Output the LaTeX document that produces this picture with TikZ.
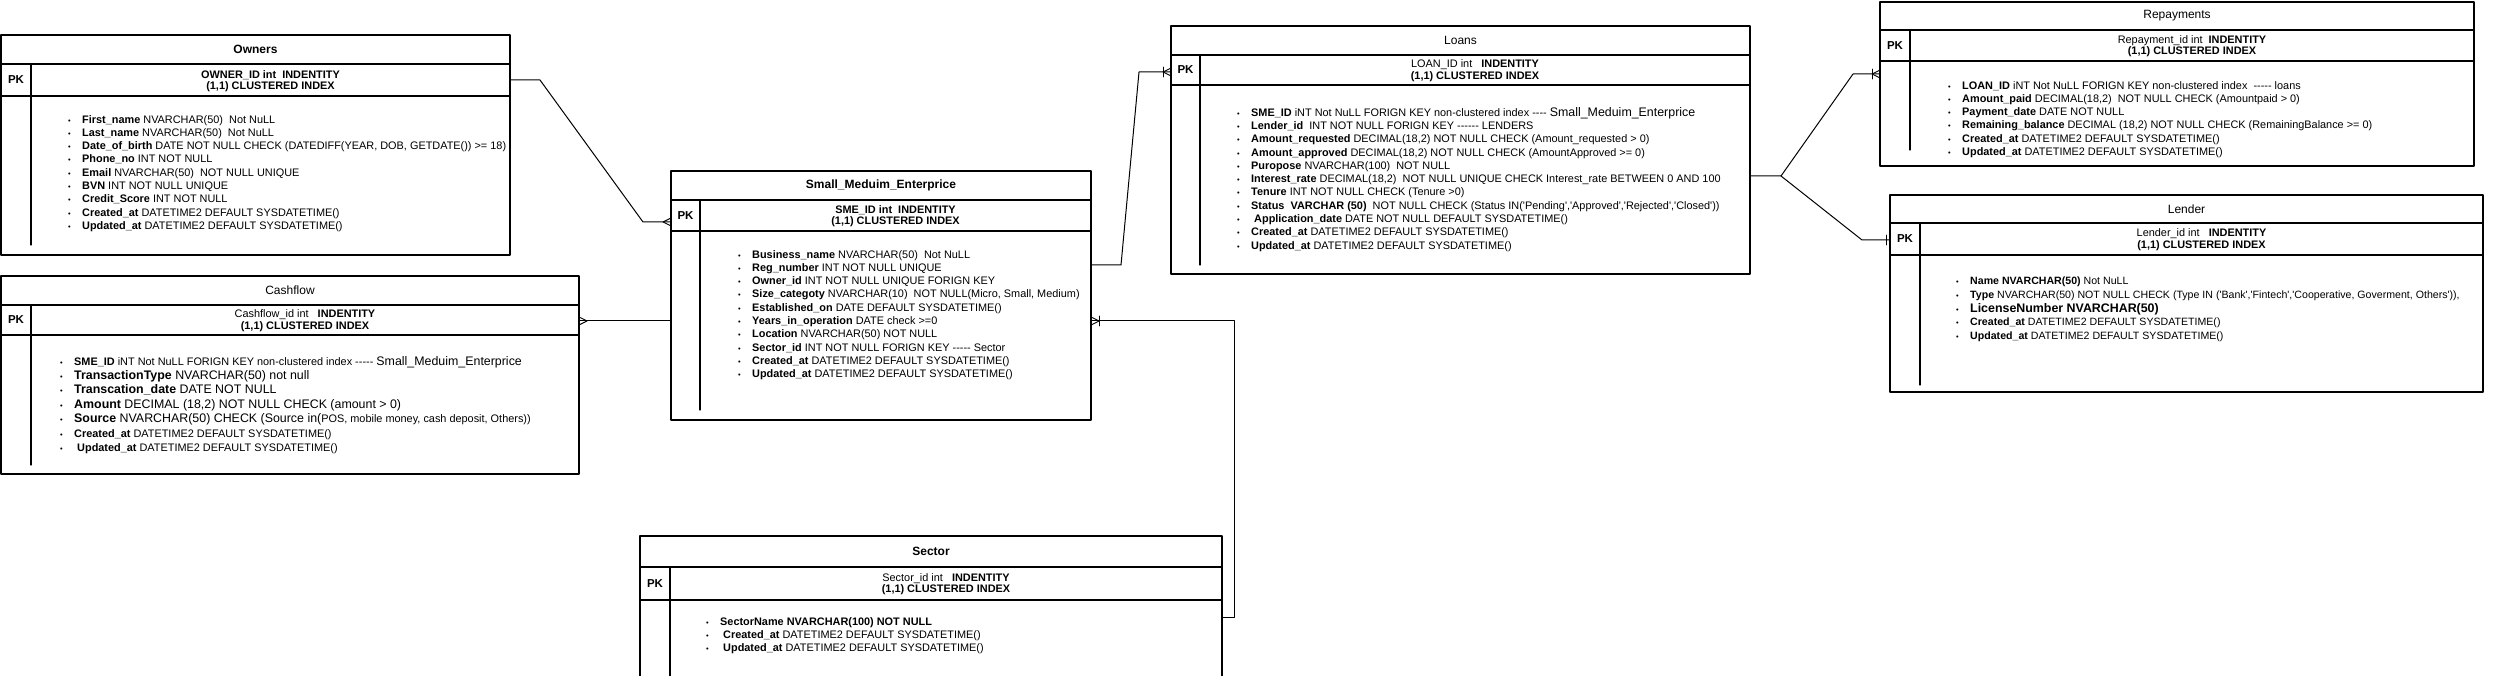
\documentclass[tikz,border=0pt]{standalone}
\usepackage{fontspec}
\setmainfont{Liberation Sans}
\newcommand{\itm}{\makebox[14pt][l]{\fontsize{7.5}{7.5}\selectfont •}}
\newcommand{\bgtxt}[1]{{\fontsize{12.4}{14}\selectfont #1}}
\newcommand{\dsh}{-{}-{}-{}-{}-}

\begin{document}
\begin{tikzpicture}[x=1pt, y=-1pt, line join=round, line cap=round,
    font=\fontsize{10.9}{13.3}\selectfont,
    tbl/.style={draw, line width=1.1pt, anchor=north west, inner sep=0pt, outer sep=0pt},
    ttl/.style={font=\fontsize{12}{13}\selectfont\bfseries},
    pk/.style={font=\fontsize{11.5}{13}\selectfont\bfseries},
    idtxt/.style={align=center, font=\fontsize{10.9}{11.5}\selectfont},
    body/.style={align=left, anchor=north west, inner sep=0pt},
    link/.style={line width=1pt},
    crow/.pic={\draw[line width=0.9pt] (-8,0) -- (0,-4) (-8,0) -- (0,4);},
    one/.pic={\draw[line width=0.9pt] (-8,-5) -- (-8,5);}]
  \useasboundingbox (0,0) rectangle (2501,676);
  \fill[white] (0,0) rectangle (2501,676);

  % Owners
  \node[tbl, minimum width=509pt, minimum height=220pt] (owners) at (1,35) {};
  \draw[line width=1.1pt] (1,64) -- (510,64) (1,96) -- (510,96) (31,64) -- (31,245);
  \node[ttl] (ownersttl) at (255.5,49.5) {Owners};
  \node[pk] (ownerspk) at (16,80) {PK};
  \node[idtxt] (ownersid) at (270.5,81) {\textbf{OWNER\_ID int~ INDENTITY}\\\textbf{(1,1) CLUSTERED INDEX}};
  \node[body] (ownersbody) at (68,115) {\itm\textbf{First\_name} NVARCHAR(50)~ Not NuLL\\
    \itm\textbf{Last\_name} NVARCHAR(50)~ Not NuLL\\
    \itm\textbf{Date\_of\_birth} DATE NOT NULL CHECK (DATEDIFF(YEAR, DOB, GETDATE()) >= 18)\\
    \itm\textbf{Phone\_no} INT NOT NULL\\
    \itm\textbf{Email} NVARCHAR(50)~ NOT NULL UNIQUE\\
    \itm\textbf{BVN} INT NOT NULL UNIQUE\\
    \itm\textbf{Credit\_Score} INT NOT NULL\\
    \itm\textbf{Created\_at} DATETIME2 DEFAULT SYSDATETIME()\\
    \itm\textbf{Updated\_at} DATETIME2 DEFAULT SYSDATETIME()};

  % Cashflow
  \node[tbl, minimum width=578pt, minimum height=198pt] (cash) at (1,276) {};
  \draw[line width=1.1pt] (1,305) -- (579,305) (1,335) -- (579,335) (31,305) -- (31,465);
  \node[ttl, font=\fontsize{12}{13}\selectfont] (cashttl) at (290,290.5) {Cashflow};
  \node[pk] (cashpk) at (16,320) {PK};
  \node[idtxt] (cashid) at (305,320.5) {Cashflow\_id int~~ \textbf{INDENTITY}\\\textbf{(1,1) CLUSTERED INDEX}};
  \node[body, font=\fontsize{10.9}{14.4}\selectfont] (cashbody) at (60,356) {\itm\textbf{SME\_ID} iNT Not NuLL FORIGN KEY non-clustered index \dsh{} \bgtxt{Small\_Meduim\_Enterprice}\\
    \itm\bgtxt{\textbf{TransactionType} NVARCHAR(50) not null}\\
    \itm\bgtxt{\textbf{Transcation\_date} DATE NOT NULL}\\
    \itm\bgtxt{\textbf{Amount} DECIMAL (18,2) NOT NULL CHECK (amount > 0)}\\
    \itm\bgtxt{\textbf{Source} NVARCHAR(50) CHECK (Source in(}POS, mobile money, cash deposit, Others))\\
    \itm\textbf{Created\_at} DATETIME2 DEFAULT SYSDATETIME()\\
    \itm~\textbf{Updated\_at} DATETIME2 DEFAULT SYSDATETIME()};

  % Small_Meduim_Enterprice
  \node[tbl, minimum width=420pt, minimum height=249pt] (sme) at (671,171) {};
  \draw[line width=1.1pt] (671,200) -- (1091,200) (671,231) -- (1091,231) (700,200) -- (700,410);
  \node[ttl] (smettl) at (881,185.5) {Small\_Meduim\_Enterprice};
  \node[pk] (smepk) at (685.5,215.5) {PK};
  \node[idtxt] (smeid) at (895.5,216) {\textbf{SME\_ID int~ INDENTITY}\\\textbf{(1,1) CLUSTERED INDEX}};
  \node[body] (smebody) at (738,250) {\itm\textbf{Business\_name} NVARCHAR(50)~ Not NuLL\\
    \itm\textbf{Reg\_number} INT NOT NULL UNIQUE\\
    \itm\textbf{Owner\_id} INT NOT NULL UNIQUE FORIGN KEY\\
    \itm\textbf{Size\_categoty} NVARCHAR(10)~ NOT NULL(Micro, Small, Medium)\\
    \itm\textbf{Established\_on} DATE DEFAULT SYSDATETIME()\\
    \itm\textbf{Years\_in\_operation} DATE check >=0\\
    \itm\textbf{Location} NVARCHAR(50) NOT NULL\\
    \itm\textbf{Sector\_id} INT NOT NULL FORIGN KEY \dsh{} Sector\\
    \itm\textbf{Created\_at} DATETIME2 DEFAULT SYSDATETIME()\\
    \itm\textbf{Updated\_at} DATETIME2 DEFAULT SYSDATETIME()};

  % Loans
  \node[tbl, minimum width=579pt, minimum height=248pt] (loans) at (1171,26) {};
  \draw[line width=1.1pt] (1171,55) -- (1750,55) (1171,85) -- (1750,85) (1200,55) -- (1200,265);
  \node[ttl, font=\fontsize{12}{13}\selectfont] (loansttl) at (1460.5,40.5) {Loans};
  \node[pk] (loanspk) at (1185.5,70) {PK};
  \node[idtxt] (loansid) at (1475,70.5) {LOAN\_ID int~~ \textbf{INDENTITY}\\\textbf{(1,1) CLUSTERED INDEX}};
  \node[body] (loansbody) at (1237,107) {\itm\textbf{SME\_ID} iNT Not NuLL FORIGN KEY non-clustered index -{}-{}-{}- \bgtxt{Small\_Meduim\_Enterprice}\\
    \itm\textbf{Lender\_id}~ INT NOT NULL FORIGN KEY -{}-{}-{}-{}-{}- LENDERS\\
    \itm\textbf{Amount\_requested} DECIMAL(18,2) NOT NULL CHECK (Amount\_requested > 0)\\
    \itm\textbf{Amount\_approved} DECIMAL(18,2) NOT NULL CHECK (AmountApproved >= 0)\\
    \itm\textbf{Puropose} NVARCHAR(100)~ NOT NULL\\
    \itm\textbf{Interest\_rate} DECIMAL(18,2)~ NOT NULL UNIQUE CHECK Interest\_rate BETWEEN 0 AND 100\\
    \itm\textbf{Tenure} INT NOT NULL CHECK (Tenure >0)\\
    \itm\textbf{Status~ VARCHAR (50)}~ NOT NULL CHECK (Status IN(\textquotesingle Pending\textquotesingle,\textquotesingle Approved\textquotesingle,\textquotesingle Rejected\textquotesingle,\textquotesingle Closed\textquotesingle))\\
    \itm~\textbf{Application\_date} DATE NOT NULL DEFAULT SYSDATETIME()\\
    \itm\textbf{Created\_at} DATETIME2 DEFAULT SYSDATETIME()\\
    \itm\textbf{Updated\_at} DATETIME2 DEFAULT SYSDATETIME()};

  % Repayments
  \node[tbl, minimum width=594pt, minimum height=164pt] (repay) at (1880,2) {};
  \draw[line width=1.1pt] (1880,30) -- (2474,30) (1880,61) -- (2474,61) (1910,30) -- (1910,150);
  \node[ttl, font=\fontsize{12}{13}\selectfont] (repayttl) at (2177,16) {Repayments};
  \node[pk] (repaypk) at (1895,45.5) {PK};
  \node[idtxt] (repayid) at (2192,46) {Repayment\_id int~ \textbf{INDENTITY}\\\textbf{(1,1) CLUSTERED INDEX}};
  \node[body] (repaybody) at (1948,81) {\itm\textbf{LOAN\_ID} iNT Not NuLL FORIGN KEY non-clustered index~ \dsh{} loans\\
    \itm\textbf{Amount\_paid} DECIMAL(18,2)~ NOT NULL CHECK (Amountpaid > 0)\\
    \itm\textbf{Payment\_date} DATE NOT NULL\\
    \itm\textbf{Remaining\_balance} DECIMAL (18,2) NOT NULL CHECK (RemainingBalance >= 0)\\
    \itm\textbf{Created\_at} DATETIME2 DEFAULT SYSDATETIME()\\
    \itm\textbf{Updated\_at} DATETIME2 DEFAULT SYSDATETIME()};

  % Lender
  \node[tbl, minimum width=593pt, minimum height=197pt] (lender) at (1890,195) {};
  \draw[line width=1.1pt] (1890,223) -- (2483,223) (1890,255) -- (2483,255) (1920,223) -- (1920,385);
  \node[ttl, font=\fontsize{12}{13}\selectfont] (lenderttl) at (2186.5,209) {Lender};
  \node[pk] (lenderpk) at (1905,239) {PK};
  \node[idtxt] (lenderid) at (2201.5,239.5) {Lender\_id int~~ \textbf{INDENTITY}\\\textbf{(1,1) CLUSTERED INDEX}};
  \node[body, font=\fontsize{10.6}{13.6}\selectfont] (lenderbody) at (1956,277) {\itm\textbf{Name NVARCHAR(50)} Not NuLL\\
    \itm\textbf{Type} NVARCHAR(50) NOT NULL CHECK (Type IN (\textquotesingle Bank\textquotesingle,\textquotesingle Fintech\textquotesingle,\textquotesingle Cooperative, Goverment, Others\textquotesingle)),\\
    \itm\bgtxt{\textbf{LicenseNumber NVARCHAR(50)}}\\
    \itm\textbf{Created\_at} DATETIME2 DEFAULT SYSDATETIME()\\
    \itm\textbf{Updated\_at} DATETIME2 DEFAULT SYSDATETIME()};

  % Sector
  \node[tbl, minimum width=582pt, minimum height=150pt] (sector) at (640,536) {};
  \draw[line width=1.1pt] (640,567) -- (1222,567) (640,600) -- (1222,600) (670,567) -- (670,686);
  \node[ttl] (sectorttl) at (931,551.5) {Sector};
  \node[pk] (sectorpk) at (655,583.5) {PK};
  \node[idtxt] (sectorid) at (946,584) {Sector\_id int~~ \textbf{INDENTITY}\\\textbf{(1,1) CLUSTERED INDEX}};
  \node[body] (sectorbody) at (706,617) {\itm\textbf{SectorName NVARCHAR(100) NOT NULL}\\
    \itm~\textbf{Created\_at} DATETIME2 DEFAULT SYSDATETIME()\\
    \itm~\textbf{Updated\_at} DATETIME2 DEFAULT SYSDATETIME()};

  % relationships
  \coordinate (ob1) at (540,80);
  \coordinate (ob2) at (643,222);
  \draw[link] (owners.east |- ob1) -- (ob1) -- (ob2) -- (sme.west |- ob2) pic {crow};
  \coordinate (cf) at (620,321);
  \draw[link] (sme.west |- cf) -- (cash.east |- cf) pic[rotate=180] {crow};
  \coordinate (sl1) at (1121,265);
  \coordinate (sl2) at (1139,72);
  \draw[link] (sme.east |- sl1) -- (sl1) -- (sl2) -- (loans.west |- sl2) pic {crow} pic {one};
  \coordinate (fork) at (1781,176);
  \coordinate (lr) at (1853,74);
  \coordinate (ll) at (1862,240);
  \draw[link] (loans.east |- fork) -- (fork) -- (lr) -- (repay.west |- lr) pic {crow} pic {one};
  \draw[link] (fork) -- (ll) -- (lender.west |- ll) pic[xshift=4] {one};
  \coordinate (sc1) at (1234,617);
  \coordinate (sc2) at (1234,321);
  \draw[link] (sector.east |- sc1) -- (sc1) -- (sc2) -- (sme.east |- sc2) pic[rotate=180] {crow} pic[rotate=180] {one};
\end{tikzpicture}
\end{document}
